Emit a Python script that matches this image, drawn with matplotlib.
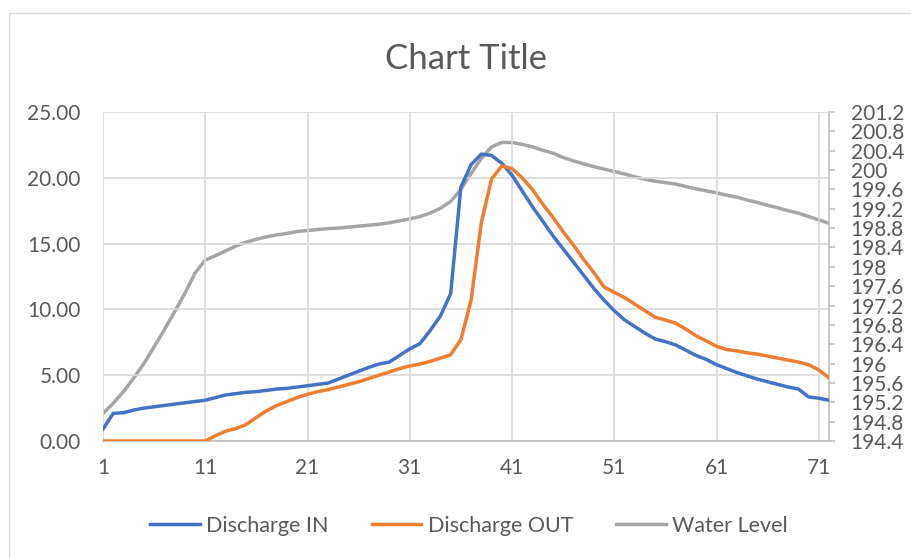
import numpy as np
import matplotlib
matplotlib.use("Agg")
import matplotlib.pyplot as plt
from matplotlib.patches import Rectangle
from matplotlib.ticker import FuncFormatter, MultipleLocator

plt.rcParams['font.family'] = ['Lato', 'DejaVu Sans']

# data
steps = list(range(1, 73))
discharge_in = [0.9, 2.1, 2.15, 2.35, 2.5, 2.6, 2.7, 2.8, 2.9, 3.0,
                3.1, 3.3, 3.5, 3.6, 3.7, 3.75, 3.85, 3.95, 4.0, 4.1,
                4.2, 4.3, 4.4, 4.7, 5.0, 5.3, 5.6, 5.85, 6.0, 6.5,
                7.0, 7.4, 8.4, 9.5, 11.2, 19.3, 21.0, 21.8, 21.7, 21.1,
                20.2, 19.0, 17.8, 16.7, 15.6, 14.6, 13.6, 12.6, 11.6, 10.7,
                9.9, 9.2, 8.7, 8.2, 7.75, 7.55, 7.3, 6.9, 6.5, 6.2,
                5.8, 5.5, 5.2, 4.95, 4.7, 4.5, 4.3, 4.1, 3.95, 3.35,
                3.25, 3.1]
discharge_out = [0, 0, 0, 0, 0, 0, 0, 0, 0, 0,
                 0, 0.4, 0.75, 0.95, 1.25, 1.8, 2.3, 2.7, 3.0, 3.3,
                 3.55, 3.75, 3.9, 4.1, 4.3, 4.5, 4.75, 5.0, 5.25, 5.5,
                 5.7, 5.85, 6.05, 6.3, 6.55, 7.7, 10.7, 16.6, 19.9, 20.9,
                 20.7, 20.0, 19.1, 18.0, 17.0, 15.9, 14.9, 13.8, 12.8, 11.7,
                 11.3, 10.9, 10.4, 9.9, 9.4, 9.2, 8.95, 8.5, 8.0, 7.6,
                 7.2, 6.95, 6.85, 6.7, 6.6, 6.45, 6.3, 6.15, 6.0, 5.8,
                 5.4, 4.8]
water_level = [194.97, 195.18, 195.42, 195.7, 196.0, 196.35, 196.7, 197.07, 197.45, 197.87,
               198.14, 198.23, 198.33, 198.43, 198.51, 198.57, 198.62, 198.66, 198.69, 198.73,
               198.75, 198.77, 198.79, 198.8, 198.82, 198.84, 198.86, 198.88, 198.91, 198.95,
               198.99, 199.04, 199.11, 199.21, 199.35, 199.6, 199.93, 200.24, 200.48, 200.57,
               200.57, 200.53, 200.48, 200.41, 200.35, 200.26, 200.19, 200.13, 200.07, 200.02,
               199.97, 199.92, 199.86, 199.81, 199.77, 199.74, 199.71, 199.66, 199.61, 199.57,
               199.53, 199.48, 199.44, 199.38, 199.33, 199.27, 199.22, 199.16, 199.11, 199.04,
               198.97, 198.9]
x_ticks = [1, 11, 21, 31, 41, 51, 61, 71]

text_col = '#595959'
grid_col = '#d9d9d9'
axis_col = '#bfbfbf'

fig = plt.figure(figsize=(9.11, 5.58), dpi=100)
fig.patches.append(Rectangle((9 / 911, -0.01), 1.0, 1 - 13 / 558 + 0.01,
                             transform=fig.transFigure, fill=False,
                             edgecolor='#d9d9d9', linewidth=1.0))

ax = fig.add_axes([103 / 911, 1 - 441 / 558, (829 - 103) / 911, (441 - 112) / 558])
ax2 = ax.twinx()

l1, = ax.plot(steps, discharge_in, color='#4472c4', lw=2.5, label='Discharge IN', zorder=3)
l2, = ax.plot(steps, discharge_out, color='#ed7d31', lw=2.5, label='Discharge OUT', zorder=3)
l3, = ax2.plot(steps, water_level, color='#a5a5a5', lw=2.5, label='Water Level')

ax.set_xlim(1, 72)
ax.set_ylim(0, 25)
ax.yaxis.set_major_locator(MultipleLocator(5))
ax.yaxis.set_major_formatter(FuncFormatter(lambda v, p: '%.2f' % v))
ax.set_xticks(x_ticks)
ax.grid(True, color=grid_col, lw=1.2)
ax.set_axisbelow(True)
for s in ['left', 'top', 'right']:
    ax.spines[s].set_visible(False)
ax.spines['bottom'].set_color(axis_col)
ax.spines['bottom'].set_linewidth(1.2)
ax.tick_params(axis='both', length=0, labelsize=15, colors=text_col)
ax.tick_params(axis='x', pad=12)
ax.tick_params(axis='y', pad=16)

ax2.set_ylim(194.4, 201.2)
ax2.set_yticks(np.arange(194.4, 201.21, 0.4))
ax2.yaxis.set_major_formatter(FuncFormatter(lambda v, p: ('%.1f' % v).rstrip('0').rstrip('.')))
for s in ['left', 'top', 'bottom']:
    ax2.spines[s].set_visible(False)
ax2.spines['right'].set_color(axis_col)
ax2.spines['right'].set_linewidth(1.2)
ax2.tick_params(axis='y', direction='out', length=4.5, width=1.2, color=axis_col,
                labelsize=15, labelcolor=text_col, pad=11)

# discharge lines drawn above the water level line
ax2.set_zorder(0)
ax.set_zorder(1)
ax.patch.set_visible(False)

plot_mid = (103 + 829) / 2 / 911
fig.text(plot_mid, 1 - 59 / 558, 'Chart Title', ha='center', va='center',
         fontsize=25, color=text_col)

fig.legend(handles=[l1, l2, l3], loc='center', bbox_to_anchor=(0.515, 1 - 526 / 558),
           ncol=3, frameon=False, fontsize=15.5, labelcolor=text_col,
           handlelength=2.3, handletextpad=0.3, columnspacing=2.0)

fig.savefig('out.png', dpi=100)
